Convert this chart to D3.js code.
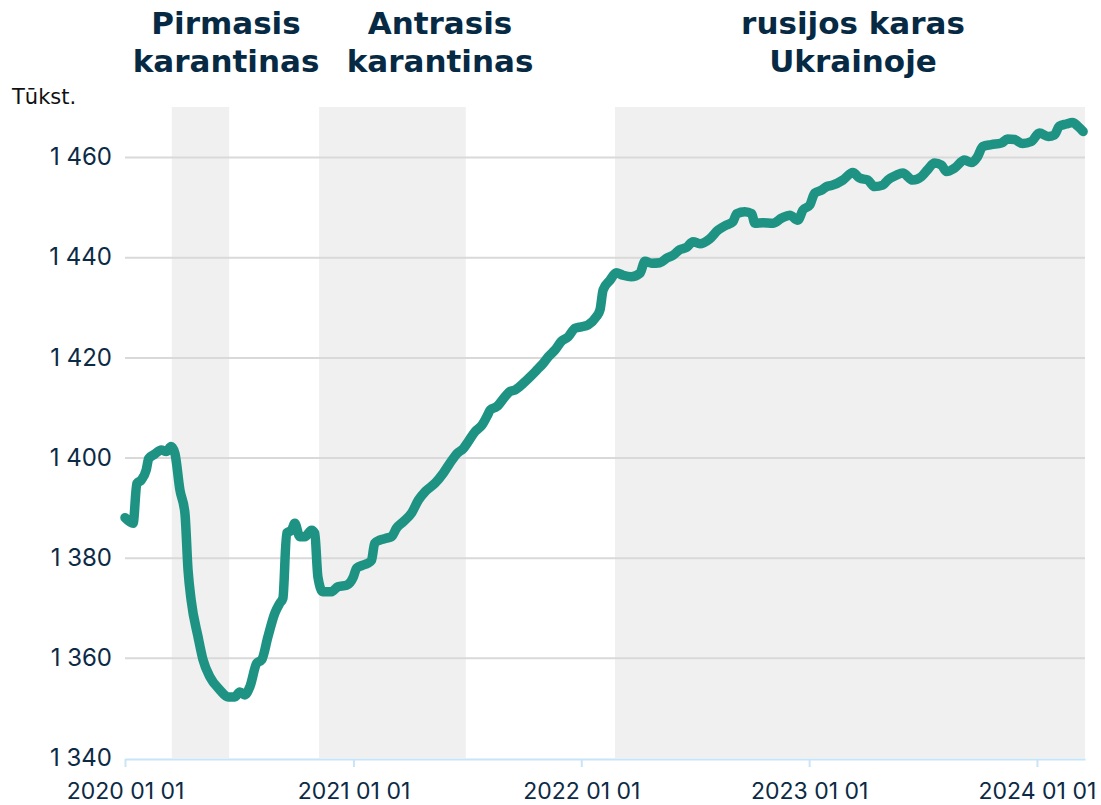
<!DOCTYPE html>
<html>
<head>
<meta charset="utf-8">
<script src="https://cdn.jsdelivr.net/npm/d3@7"></script>
<style>
  body { margin: 0; background: #fff; }
  svg { display: block; }
</style>
</head>
<body>
<div id="chart"></div>
<script>
// employed persons, thousands
const dates = [
  "2020-01-01","2020-01-14","2020-01-20","2020-01-27","2020-02-04","2020-02-08","2020-02-18","2020-02-28",
  "2020-03-07","2020-03-15","2020-03-21","2020-03-29","2020-04-06","2020-04-11","2020-04-16","2020-04-27",
  "2020-05-05","2020-05-16","2020-06-01","2020-06-14","2020-06-25","2020-07-03","2020-07-11","2020-07-19",
  "2020-07-30","2020-08-07","2020-08-17","2020-08-28","2020-09-05","2020-09-10","2020-09-16","2020-09-24",
  "2020-09-29","2020-10-07","2020-10-15","2020-10-26","2020-10-31","2020-11-05","2020-11-13","2020-11-27",
  "2020-12-07","2020-12-21","2021-01-01","2021-01-06","2021-01-16","2021-01-24","2021-01-30","2021-02-04",
  "2021-02-12","2021-02-23","2021-03-03","2021-03-11","2021-03-22","2021-04-04","2021-04-15","2021-04-26",
  "2021-05-12","2021-05-25","2021-06-08","2021-06-16","2021-06-26","2021-07-04","2021-07-15","2021-07-26",
  "2021-08-04","2021-08-08","2021-08-19","2021-09-01","2021-09-09","2021-09-17","2021-09-30","2021-10-11",
  "2021-10-22","2021-11-01","2021-11-09","2021-11-20","2021-11-30","2021-12-11","2021-12-22","2022-01-01",
  "2022-01-12","2022-01-25","2022-01-31","2022-02-05","2022-02-16","2022-02-26","2022-03-09","2022-03-22",
  "2022-04-05","2022-04-13","2022-04-24","2022-05-07","2022-05-18","2022-05-28","2022-06-08","2022-06-19",
  "2022-06-29","2022-07-10","2022-07-26","2022-08-08","2022-08-21","2022-09-01","2022-09-07","2022-09-20",
  "2022-10-01","2022-10-06","2022-10-19","2022-11-04","2022-11-18","2022-12-01","2022-12-14","2022-12-22",
  "2023-01-02","2023-01-10","2023-01-21","2023-01-29","2023-02-08","2023-02-24","2023-03-12","2023-03-23",
  "2023-04-05","2023-04-16","2023-04-29","2023-05-07","2023-05-21","2023-05-31","2023-06-16","2023-06-30",
  "2023-07-10","2023-07-21","2023-08-01","2023-08-09","2023-08-22","2023-09-07","2023-09-18","2023-09-28",
  "2023-10-06","2023-10-20","2023-11-05","2023-11-15","2023-11-26","2023-12-09","2023-12-23","2024-01-05",
  "2024-01-19","2024-01-29","2024-02-06","2024-02-17","2024-02-27","2024-03-07","2024-03-15"
];
const values = [
  1388.0,1386.9,1394.8,1395.5,1397.5,1399.8,1400.7,1401.5,
  1401.2,1402.2,1400.8,1393.5,1388.9,1377.5,1371.5,1364.2,
  1359.6,1356.2,1353.6,1352.2,1352.2,1353.2,1352.6,1354.2,
  1358.9,1359.6,1364.2,1368.9,1370.9,1371.9,1384.9,1385.5,
  1386.9,1384.2,1384.2,1385.5,1384.9,1376.2,1373.2,1373.2,
  1374.2,1374.5,1376.2,1377.9,1378.5,1378.9,1379.5,1382.9,
  1383.5,1383.9,1384.2,1385.9,1387.2,1388.9,1391.5,1393.2,
  1394.9,1396.9,1399.5,1400.8,1401.8,1403.2,1405.2,1406.5,
  1408.5,1409.5,1410.2,1412.2,1413.2,1413.5,1414.8,1416.1,
  1417.5,1418.8,1420.1,1421.5,1423.2,1424.1,1425.8,1426.1,
  1426.5,1428.1,1429.5,1433.5,1435.4,1436.9,1436.4,1436.1,
  1436.8,1439.2,1438.8,1438.9,1439.8,1440.4,1441.5,1442.0,
  1443.1,1442.7,1443.7,1445.4,1446.4,1447.1,1448.7,1449.1,
  1448.7,1446.8,1446.9,1446.8,1447.8,1448.4,1447.4,1449.4,
  1450.4,1452.8,1453.4,1454.1,1454.4,1455.4,1456.9,1455.8,
  1455.4,1454.1,1454.4,1455.4,1456.4,1456.8,1455.4,1456.1,
  1457.5,1458.8,1458.4,1457.1,1457.8,1459.4,1458.9,1460.1,
  1462.1,1462.5,1462.8,1463.6,1463.5,1462.7,1463.1,1464.8,
  1464.1,1464.4,1466.2,1466.6,1466.9,1466.1,1465.1
];

const periodStart = ["2020-03-16", "2020-11-07", "2022-02-24"];
const periodEnd = ["2020-06-16", "2021-06-30", "2024-03-18"];
const periodTitle = [["Pirmasis", "karantinas"], ["Antrasis", "karantinas"], ["rusijos karas", "Ukrainoje"]];

const yTicks = [1340, 1360, 1380, 1400, 1420, 1440, 1460];
const xTicks = ["2020-01-01", "2021-01-01", "2022-01-01", "2023-01-01", "2024-01-01"];
const xDomain = ["2020-01-01", "2024-03-18"];
const yDomain = [1340, 1470];
const unitLabel = "Tūkst.";

const width = 1101, height = 805;
const margin = { top: 107, right: 16, bottom: 47, left: 125 };
const titleX = [226, 440, 853];

const parse = d3.timeParse("%Y-%m-%d");
const data = dates.map((d, i) => ({ date: parse(d), value: values[i] }));

const x = d3.scaleTime()
  .domain(xDomain.map(parse))
  .range([margin.left, width - margin.right]);

const y = d3.scaleLinear()
  .domain(yDomain)
  .range([height - margin.bottom, margin.top]);

const locale = d3.formatLocale({ decimal: ",", thousands: " ", grouping: [3], currency: ["", " €"] });
const fmtY = locale.format(",d");

const svg = d3.select('#chart').append('svg')
  .attr('width', width)
  .attr('height', height);

// shaded periods
svg.append('g')
  .selectAll('rect')
  .data(periodStart)
  .enter().append('rect')
  .attr('x', d => x(parse(d)))
  .attr('width', (d, i) => x(parse(periodEnd[i])) - x(parse(d)))
  .attr('y', margin.top)
  .attr('height', height - margin.bottom - margin.top)
  .attr('fill', '#f0f0f0');

// gridlines + y labels
const yAxis = svg.append('g')
  .attr('transform', 'translate(' + margin.left + ',0)')
  .call(d3.axisLeft(y).tickValues(yTicks).tickFormat(fmtY)
    .tickSize(-(width - margin.left - margin.right)).tickPadding(13));
yAxis.select('.domain').remove();
yAxis.selectAll('.tick line')
  .attr('stroke', '#d9d9d9')
  .attr('stroke-width', 2)
  .attr('opacity', d => d === yDomain[0] ? 0 : 1);
yAxis.selectAll('.tick text')
  .attr('fill', '#0b2a45')
  .style('font-family', 'Inter, Roboto, sans-serif')
  .style('font-size', '24px');

// x axis
const xAxis = svg.append('g')
  .attr('transform', 'translate(0,' + (height - margin.bottom + 1) + ')')
  .call(d3.axisBottom(x).tickValues(xTicks.map(parse))
    .tickFormat(d3.timeFormat("%Y %m %d")).tickSize(8).tickSizeOuter(0).tickPadding(16));
xAxis.select('.domain').attr('stroke', '#c8e4f8').attr('stroke-width', 2);
xAxis.selectAll('.tick line').attr('stroke', '#c8e4f8').attr('stroke-width', 2);
xAxis.selectAll('.tick text')
  .attr('fill', '#0b2a45')
  .style('font-family', 'Inter, Roboto, sans-serif')
  .style('font-size', '23px');

// the line
const line = d3.line()
  .x(d => x(d.date))
  .y(d => y(d.value))
  .curve(d3.curveMonotoneX);

svg.append('path')
  .datum(data)
  .attr('d', line)
  .attr('fill', 'none')
  .attr('stroke', '#1f9383')
  .attr('stroke-width', 9.5)
  .attr('stroke-linejoin', 'round')
  .attr('stroke-linecap', 'round');

// unit label
svg.append('text')
  .attr('x', 12)
  .attr('y', 104)
  .attr('fill', '#111')
  .style('font-family', '"DejaVu Sans", Verdana, sans-serif')
  .style('font-size', '21px')
  .text(unitLabel);

// period titles
const titles = svg.append('g')
  .selectAll('text')
  .data(periodTitle)
  .enter().append('text')
  .attr('x', (d, i) => titleX[i])
  .attr('text-anchor', 'middle')
  .attr('fill', '#072a44')
  .style('font-family', '"DejaVu Sans", Verdana, sans-serif')
  .style('font-weight', 'bold')
  .style('font-size', '31px');

titles.selectAll('tspan')
  .data(d => d)
  .enter().append('tspan')
  .attr('x', function () { return d3.select(this.parentNode).attr('x'); })
  .attr('y', (d, i) => 34 + i * 38)
  .text(d => d);
</script>
</body>
</html>
